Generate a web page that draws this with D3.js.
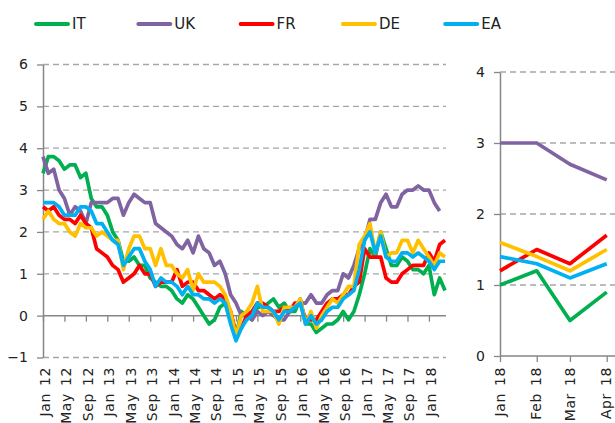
<!DOCTYPE html>
<html><head><meta charset="utf-8">
<script src="https://cdn.jsdelivr.net/npm/d3@7"></script>
<style>
body{margin:0;background:#fff;}
svg{display:block;}
text{font-family:"DejaVu Sans",Verdana,sans-serif;fill:#222;}
</style>
</head><body>
<svg id="c" width="615" height="423"></svg>
<script>
// ---------- data ----------
const months = [
"Jan 12","Feb 12","Mar 12","Apr 12","May 12","Jun 12","Jul 12","Aug 12","Sep 12","Oct 12","Nov 12","Dec 12",
"Jan 13","Feb 13","Mar 13","Apr 13","May 13","Jun 13","Jul 13","Aug 13","Sep 13","Oct 13","Nov 13","Dec 13",
"Jan 14","Feb 14","Mar 14","Apr 14","May 14","Jun 14","Jul 14","Aug 14","Sep 14","Oct 14","Nov 14","Dec 14",
"Jan 15","Feb 15","Mar 15","Apr 15","May 15","Jun 15","Jul 15","Aug 15","Sep 15","Oct 15","Nov 15","Dec 15",
"Jan 16","Feb 16","Mar 16","Apr 16","May 16","Jun 16","Jul 16","Aug 16","Sep 16","Oct 16","Nov 16","Dec 16",
"Jan 17","Feb 17","Mar 17","Apr 17","May 17","Jun 17","Jul 17","Aug 17","Sep 17","Oct 17","Nov 17","Dec 17",
"Jan 18","Feb 18","Mar 18","Apr 18"];
const tickLabels = ["Jan 12","May 12","Sep 12","Jan 13","May 13","Sep 13","Jan 14","May 14","Sep 14",
"Jan 15","May 15","Sep 15","Jan 16","May 16","Sep 16","Jan 17","May 17","Sep 17","Jan 18"];

const seriesNames = ["IT","UK","FR","DE","EA"];
const seriesColors = ["#00B050","#8064A2","#FF0000","#FFC000","#00B0F0"];

const IT = [3.4,3.8,3.8,3.7,3.5,3.6,3.6,3.3,3.4,2.8,2.6,2.6,
2.4,2.0,1.8,1.3,1.3,1.4,1.2,1.2,0.9,0.8,0.7,0.7,
0.6,0.4,0.3,0.5,0.4,0.2,0.0,-0.2,-0.1,0.2,0.3,-0.1,
-0.5,0.1,0.0,-0.1,0.2,0.2,0.3,0.4,0.2,0.3,0.1,0.1,
0.4,-0.2,-0.2,-0.4,-0.3,-0.2,-0.2,-0.1,0.1,-0.1,0.1,0.5,
1.0,1.6,1.4,2.0,1.6,1.2,1.2,1.4,1.3,1.1,1.1,1.0,
1.2,0.5,0.9,0.6];
const UK = [3.8,3.4,3.5,3.0,2.8,2.4,2.6,2.5,2.2,2.7,2.7,2.7,
2.7,2.8,2.8,2.4,2.7,2.9,2.8,2.7,2.7,2.2,2.1,2.0,
1.9,1.7,1.6,1.8,1.5,1.9,1.6,1.5,1.2,1.3,1.0,0.5,
0.3,0.0,0.0,-0.1,0.1,0.0,0.1,0.0,-0.1,-0.1,0.1,0.2,
0.3,0.3,0.5,0.3,0.3,0.5,0.6,0.6,1.0,0.9,1.2,1.6,
1.8,2.3,2.3,2.7,2.9,2.6,2.6,2.9,3.0,3.0,3.1,3.0,
3.0,2.7,2.5,null];
const FR = [2.6,2.5,2.6,2.4,2.3,2.3,2.2,2.4,2.2,2.1,1.6,1.5,
1.4,1.2,1.1,0.8,0.9,1.0,1.2,1.0,1.0,0.7,0.8,0.8,
0.8,1.1,0.7,0.8,0.8,0.6,0.6,0.5,0.4,0.5,0.4,0.1,
-0.4,-0.3,0.0,0.1,0.3,0.3,0.2,0.1,0.1,0.2,0.1,0.3,
0.3,-0.1,-0.1,-0.1,0.1,0.3,0.4,0.4,0.5,0.5,0.7,0.8,
1.6,1.4,1.4,1.4,0.9,0.8,0.8,1.0,1.1,1.2,1.2,1.2,
1.5,1.3,1.7,1.8];
const DE = [2.3,2.5,2.3,2.2,2.2,2.0,1.9,2.2,2.1,2.1,1.9,2.0,
1.9,1.8,1.8,1.1,1.6,1.9,1.9,1.6,1.6,1.2,1.6,1.2,
1.2,1.0,0.9,1.1,0.6,1.0,0.8,0.8,0.8,0.7,0.5,0.1,
-0.5,0.0,0.1,0.3,0.7,0.1,0.1,0.1,-0.2,0.2,0.2,0.2,
0.4,-0.2,0.1,-0.3,0.0,0.2,0.4,0.3,0.5,0.7,0.7,1.7,
1.9,2.2,1.5,2.0,1.4,1.5,1.5,1.8,1.8,1.5,1.8,1.6,
1.4,1.2,1.5,1.4];
const EA = [2.7,2.7,2.7,2.6,2.4,2.4,2.4,2.6,2.6,2.5,2.2,2.2,
2.0,1.8,1.7,1.2,1.4,1.6,1.6,1.3,1.1,0.7,0.9,0.8,
0.8,0.7,0.5,0.7,0.5,0.5,0.4,0.4,0.3,0.4,0.3,-0.2,
-0.6,-0.3,-0.1,0.0,0.3,0.2,0.2,0.1,-0.1,0.1,0.1,0.2,
0.3,-0.2,0.0,-0.2,-0.1,0.1,0.2,0.2,0.4,0.5,0.6,1.1,
1.8,2.0,1.5,1.9,1.4,1.3,1.3,1.5,1.5,1.4,1.5,1.4,
1.3,1.1,1.3,1.3];
const leftTicks = [-1,0,1,2,3,4,5,6];

// right (zoomed) panel
const zoomLabels = ["Jan 18","Feb 18","Mar 18","Apr 18"];
const zoomDates = ["2018-01-01","2018-02-01","2018-03-01","2018-04-01"];
const zIT = [1.0,1.2,0.5,0.9];
const zUK = [3.0,3.0,2.7,2.48];
const zFR = [1.2,1.5,1.3,1.7];
const zDE = [1.6,1.4,1.2,1.5];
const zEA = [1.4,1.3,1.1,1.3];
const rightTicks = [0,1,2,3,4];

// ---------- drawing ----------
const svg = d3.select("#c");
const AXIS = "#868686", GRID = "#a6a6a6";
const leftSeries = [IT,UK,FR,DE,EA];
const rightSeries = [zIT,zUK,zFR,zDE,zEA];

// Left panel scales
const xL = d3.scalePoint().domain(months).range([43,445]);
const yL = d3.scaleLinear().domain([-1,6]).range([357.5,64.5]);
const L_RIGHT = 446;

// grid
svg.append("g").selectAll("line").data(leftTicks.filter(d=>d!==0)).join("line")
  .attr("x1",43).attr("x2",L_RIGHT).attr("y1",d=>yL(d)).attr("y2",d=>yL(d))
  .attr("stroke",GRID).attr("stroke-width",1.3).attr("stroke-dasharray","6,4");

// y axis
const gyL = svg.append("g").attr("transform","translate(43,0)")
  .call(d3.axisLeft(yL).tickValues(leftTicks).tickSize(6).tickSizeOuter(0).tickPadding(9).tickFormat(d3.format("d")));
gyL.select(".domain").attr("stroke",AXIS).attr("stroke-width",1.5);
gyL.selectAll(".tick line").attr("stroke",AXIS).attr("stroke-width",1.3);
gyL.selectAll("text").style("font-size","14px").attr("fill","#222");

// x axis at 0
const gxL = svg.append("g").attr("transform",`translate(0,${yL(0)})`)
  .call(d3.axisBottom(xL).tickValues(tickLabels).tickSize(6).tickSizeOuter(0).tickFormat(""));
gxL.select(".domain").attr("stroke",AXIS).attr("stroke-width",1.5).attr("d",`M43,0H${L_RIGHT}`);
gxL.selectAll(".tick line").attr("stroke",AXIS).attr("stroke-width",1.3);

// x labels at bottom
const glL = svg.append("g").attr("transform","translate(1.5,367)")
  .call(d3.axisBottom(xL).tickValues(tickLabels).tickSize(0));
glL.select(".domain").remove();
glL.selectAll("text").attr("transform","rotate(-90)").attr("x",0).attr("y",0)
  .attr("dy","0.35em").attr("text-anchor","end").style("font-size","14px")
  .style("letter-spacing","0.6px").style("word-spacing","2px").attr("fill","#222");

// lines
const lineL = d3.line().defined(d=>d!=null).x((d,i)=>xL(months[i])).y(d=>yL(d));
svg.append("g").selectAll("path").data(leftSeries).join("path")
  .attr("d",d=>lineL(d)).attr("fill","none")
  .attr("stroke",(d,i)=>seriesColors[i]).attr("stroke-width",3.7)
  .attr("stroke-linejoin","round");

// Right panel
const parse = d3.timeParse("%Y-%m-%d");
const zd = zoomDates.map(parse);
const xR = d3.scaleTime().domain([zd[0],zd[3]]).range([500,606.7]);
const yR = d3.scaleLinear().domain([0,4]).range([356,72]);

svg.append("g").selectAll("line").data(rightTicks.filter(d=>d!==0)).join("line")
  .attr("x1",500).attr("x2",620).attr("y1",d=>yR(d)).attr("y2",d=>yR(d))
  .attr("stroke",GRID).attr("stroke-width",1.3).attr("stroke-dasharray","6,4");

const gyR = svg.append("g").attr("transform","translate(500,0)")
  .call(d3.axisLeft(yR).tickValues(rightTicks).tickSize(6).tickSizeOuter(0).tickPadding(9).tickFormat(d3.format("d")));
gyR.select(".domain").attr("stroke",AXIS).attr("stroke-width",1.5);
gyR.selectAll(".tick line").attr("stroke",AXIS).attr("stroke-width",1.3);
gyR.selectAll("text").style("font-size","14px").attr("fill","#222");

const gxR = svg.append("g").attr("transform",`translate(0,${yR(0)})`)
  .call(d3.axisBottom(xR).tickValues(zd).tickSize(6).tickSizeOuter(0).tickFormat(""));
gxR.select(".domain").attr("stroke",AXIS).attr("stroke-width",1.5).attr("d","M500,0H620");
gxR.selectAll(".tick line").attr("stroke",AXIS).attr("stroke-width",1.3);

const glR = svg.append("g").attr("transform","translate(0,367)")
  .call(d3.axisBottom(xR).tickValues(zd).tickSize(0).tickFormat((d,i)=>zoomLabels[i]));
glR.select(".domain").remove();
glR.selectAll("text").attr("transform","rotate(-90)").attr("x",0).attr("y",0)
  .attr("dy","0.3em").attr("text-anchor","end").style("font-size","14px")
  .style("letter-spacing","0.6px").style("word-spacing","2px").attr("fill","#222");

const lineR = d3.line().x((d,i)=>xR(zd[i])).y(d=>yR(d));
svg.append("g").selectAll("path").data(rightSeries).join("path")
  .attr("d",d=>lineR(d)).attr("fill","none")
  .attr("stroke",(d,i)=>seriesColors[i]).attr("stroke-width",3.7)
  .attr("stroke-linejoin","round");

// Legend
const lg = svg.append("g");
seriesNames.forEach((n,i)=>{
  const x0 = 34 + i*102.3;
  lg.append("line").attr("x1",x0+2).attr("x2",x0+34).attr("y1",24).attr("y2",24)
    .attr("stroke",seriesColors[i]).attr("stroke-width",4).attr("stroke-linecap","round");
  lg.append("text").attr("x",x0+38).attr("y",24).attr("dy","0.36em")
    .style("font-size","15px").text(n);
});
</script>
</body></html>
